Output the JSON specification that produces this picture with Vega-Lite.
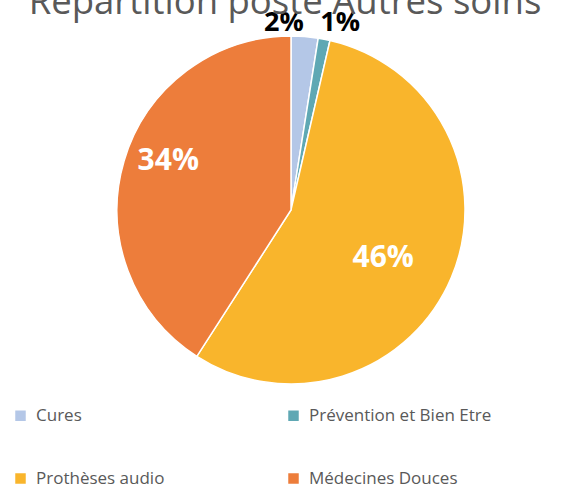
{
  "$schema": "https://vega.github.io/schema/vega-lite/v6.json",
  "width": 562,
  "height": 354,
  "autosize": {"type": "none"},
  "padding": {"left": 10, "top": 33, "right": 0, "bottom": 104},
  "background": "white",
  "title": {
    "text": "Répartition poste Autres soins",
    "orient": "top",
    "anchor": "middle",
    "frame": "group",
    "offset": 0,
    "dy": 15,
    "dx": -6,
    "font": "Open Sans",
    "fontSize": 36.5,
    "fontWeight": "normal",
    "color": "#595959"
  },
  "data": {
    "values": [
      {"categorie": "Cures", "valeur": 2.5, "etiquette": "2%", "rang": 1},
      {"categorie": "Prévention et Bien Etre", "valeur": 1.1, "etiquette": "1%", "rang": 2},
      {"categorie": "Prothèses audio", "valeur": 55.5, "etiquette": "46%", "rang": 3},
      {"categorie": "Médecines Douces", "valeur": 40.9, "etiquette": "34%", "rang": 4}
    ]
  },
  "encoding": {
    "theta": {"field": "valeur", "type": "quantitative", "stack": true},
    "order": {"field": "rang", "type": "quantitative"}
  },
  "layer": [
    {
      "mark": {"type": "arc", "outerRadius": 174, "stroke": "white", "strokeWidth": 1.5},
      "encoding": {
        "color": {
          "field": "categorie",
          "type": "nominal",
          "scale": {
            "domain": ["Cures", "Prévention et Bien Etre", "Prothèses audio", "Médecines Douces"],
            "range": ["#B4C7E7", "#5FA8B4", "#F9B52C", "#ED7D3B"]
          },
          "legend": {
            "orient": "none",
            "direction": "horizontal",
            "legendX": 2,
            "legendY": 374,
            "columns": 2,
            "title": null,
            "padding": 0,
            "symbolType": "square",
            "symbolSize": 110,
            "symbolStrokeWidth": 0,
            "labelFont": "Open Sans",
            "labelFontSize": 17,
            "labelColor": "#595959",
            "labelOffset": 7,
            "labelLimit": 400,
            "rowPadding": 45,
            "columnPadding": 120
          }
        }
      }
    },
    {
      "mark": {"type": "text", "radius": 190, "dx": -22, "dy": 2, "font": "Open Sans", "fontWeight": "bold", "fontSize": 27, "baseline": "middle", "align": "center", "color": "black"},
      "encoding": {
        "text": {"field": "etiquette"},
        "opacity": {"condition": {"test": "datum.rang == 1", "value": 1}, "value": 0}
      }
    },
    {
      "mark": {"type": "text", "radius": 190, "dx": 13, "font": "Open Sans", "fontWeight": "bold", "fontSize": 27, "baseline": "middle", "align": "center", "color": "black"},
      "encoding": {
        "text": {"field": "etiquette"},
        "opacity": {"condition": {"test": "datum.rang == 2", "value": 1}, "value": 0}
      }
    },
    {
      "mark": {"type": "text", "radius": 100, "dy": 9, "font": "Open Sans", "fontWeight": "bold", "fontSize": 30, "baseline": "middle", "align": "center", "color": "white"},
      "encoding": {
        "text": {"field": "etiquette"},
        "opacity": {"condition": {"test": "datum.rang == 3", "value": 1}, "value": 0}
      }
    },
    {
      "mark": {"type": "text", "radius": 130, "dx": 2, "dy": -12, "font": "Open Sans", "fontWeight": "bold", "fontSize": 30, "baseline": "middle", "align": "center", "color": "white"},
      "encoding": {
        "text": {"field": "etiquette"},
        "opacity": {"condition": {"test": "datum.rang == 4", "value": 1}, "value": 0}
      }
    }
  ],
  "config": {"view": {"stroke": null}}
}
